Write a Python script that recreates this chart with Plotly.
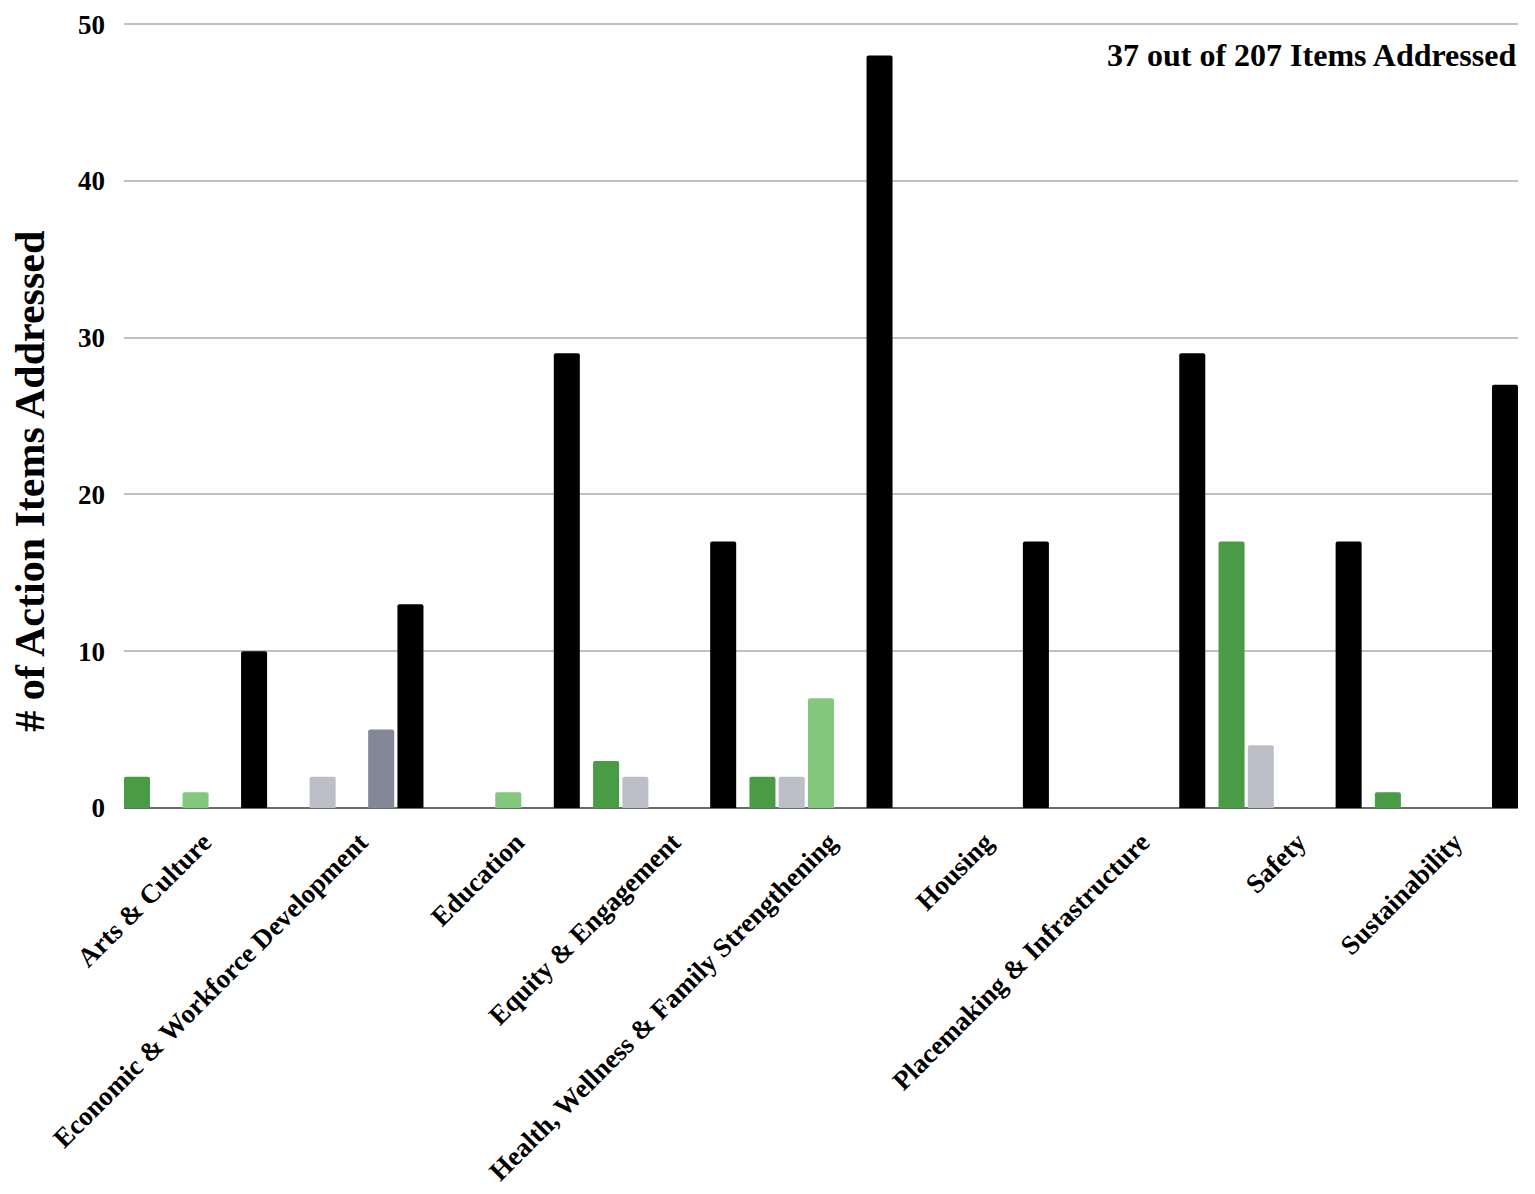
import plotly.graph_objects as go

categories = ["Arts & Culture", "Economic & Workforce Development", "Education",
              "Equity & Engagement", "Health, Wellness & Family Strengthening",
              "Housing", "Placemaking & Infrastructure", "Safety", "Sustainability"]

series_names = ["Completed", "In Progress", "Partially Addressed", "Planned", "Total Action Items"]
completed = [2, 0, 0, 3, 2, 0, 0, 17, 1]
in_progress = [0, 2, 0, 2, 2, 0, 0, 4, 0]
partial = [1, 0, 1, 0, 7, 0, 0, 0, 0]
planned = [0, 5, 0, 0, 0, 0, 0, 0, 0]
total = [10, 13, 29, 17, 48, 17, 29, 17, 27]

colors = ["#4a9b45", "#bcbfc7", "#84c87e", "#838796", "#000000"]
values = [completed, in_progress, partial, planned, total]

font_family = "Liberation Serif, Times New Roman, serif"

fig = go.Figure()
for name, vals, col in zip(series_names, values, colors):
    fig.add_trace(go.Bar(
        name=name, x=categories, y=vals,
        marker=dict(color=col, line=dict(width=0), cornerradius=2),
    ))

fig.update_layout(
    width=1520, height=1180,
    barmode="group", bargap=0.064, bargroupgap=0.111,
    plot_bgcolor="white", paper_bgcolor="white",
    showlegend=False,
    margin=dict(l=116, r=10, t=15, b=380, autoexpand=False),
    font=dict(family=font_family, color="black"),
    xaxis=dict(
        type="category", range=[-0.4576, 8.4576], automargin=False,
        tickangle=-45, tickfont=dict(size=27, family=font_family, weight="bold"),
        showgrid=False, ticks="", showline=False, ticklabelstandoff=12,
        ticklabelshift=8,
    ),
    yaxis=dict(
        range=[0, 50.07], tickvals=[0, 10, 20, 30, 40, 50], automargin=False,
        tickfont=dict(size=27, family=font_family, weight="bold"),
        showgrid=True, gridcolor="#c0c0c0", gridwidth=1.5,
        zeroline=True, zerolinecolor="#6b6b6b", zerolinewidth=2,
        ticks="", ticklabelstandoff=18,
    ),
    annotations=[
        dict(
            text="<b>37 out of 207 Items Addressed</b>",
            xref="paper", yref="paper", x=1, y=0.959, xanchor="right", yanchor="middle",
            showarrow=False, font=dict(size=32, family=font_family, color="black"),
        ),
        dict(
            text="<b># of Action Items Addressed</b>",
            xref="paper", yref="paper", x=-0.0674, y=0.4158, xanchor="center", yanchor="middle",
            textangle=-90, showarrow=False,
            font=dict(size=42, family=font_family, color="black"),
        ),
    ],
)

fig.write_html("out.html")
